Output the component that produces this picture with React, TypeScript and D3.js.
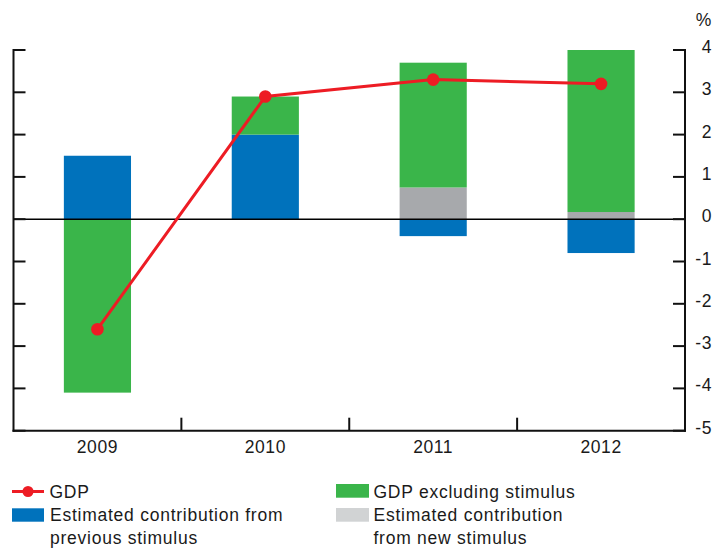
import React from "react";
import * as d3 from "d3";

const years = ["2009", "2010", "2011", "2012"];
const previousStimulus = [1.5, 2.0, -0.4, -0.8];
const newStimulus = [0, 0, 0.75, 0.17];
const gdpExclStimulus = [-4.1, 0.9, 2.95, 3.83];
const gdp = [-2.6, 2.9, 3.3, 3.2];
const yTicks = [4, 3, 2, 1, 0, -1, -2, -3, -4, -5];

const COLORS = {
  previous: "#0072BC",
  newS: "#A7A9AC",
  newLegend: "#D1D3D4",
  excl: "#3AB54A",
  gdp: "#ED1C24",
};

const W = 716;
const H = 548;
const left = 13.5;
const right = 685;
const top = 50;
const bottom = 430.7;
const FONT = "'Liberation Sans', Arial, Helvetica, sans-serif";

export default function App() {
  const x = d3.scaleBand<string>().domain(years).range([left, right]).paddingInner(0.6).paddingOuter(0.3);
  const y = d3.scaleLinear().domain([-5, 4]).range([bottom, top]);

  const rows = years.map((yr, i) => ({
    year: yr,
    previous: previousStimulus[i],
    newS: newStimulus[i],
    excl: gdpExclStimulus[i],
  }));
  const keys = ["previous", "newS", "excl"];
  const stack = d3.stack<any>().keys(keys).offset(d3.stackOffsetDiverging);
  const series = stack(rows);

  const cx = (yr: string) => (x(yr) as number) + x.bandwidth() / 2;
  const line = d3
    .line<number>()
    .x((_, i) => cx(years[i]))
    .y((d) => y(d));

  const step = x.step();
  const dividers = years.slice(1).map((yr) => (x(yr) as number) - (step - x.bandwidth()) / 2);

  return (
    <svg width={W} height={H} style={{ position: "absolute", left: 0, top: 0, background: "#fff" }} fontFamily={FONT}>
      {/* bars */}
      {series.map((s) => (
        <g key={s.key} fill={(COLORS as any)[s.key]}>
          {s.map((d, i) => {
            const y0 = Math.min(y(d[0]), y(d[1]));
            const h = Math.abs(y(d[0]) - y(d[1]));
            if (h < 0.01) return null;
            return <rect key={i} x={x(years[i])} y={y0} width={x.bandwidth()} height={h} />;
          })}
        </g>
      ))}

      {/* zero line */}
      <line x1={left} x2={right} y1={y(0)} y2={y(0)} stroke="#000" strokeWidth={1.6} />

      {/* axes */}
      <g stroke="#111" strokeWidth={2} fill="none">
        <line x1={left} x2={left} y1={top - 1} y2={bottom + 1} />
        <line x1={right} x2={right} y1={top - 1} y2={bottom + 1} />
        <line x1={left - 1} x2={right + 1} y1={bottom} y2={bottom} />
        {yTicks.map((t) => (
          <g key={t}>
            <line x1={left} x2={left + 12} y1={y(t)} y2={y(t)} />
            <line x1={right - 12} x2={right} y1={y(t)} y2={y(t)} />
          </g>
        ))}
        {dividers.map((dx, i) => (
          <line key={i} x1={dx} x2={dx} y1={bottom - 13} y2={bottom} />
        ))}
      </g>

      {/* tick labels */}
      <g fontSize={17.5} fill="#1a1a1a" textAnchor="end" letterSpacing={0.6}>
        {yTicks.map((t) => (
          <text key={t} x={712} y={y(t) + 3}>
            {t}
          </text>
        ))}
        <text x={712} y={26}>%</text>
      </g>
      <g fontSize={17.5} fill="#1a1a1a" textAnchor="middle" letterSpacing={0.6}>
        {years.map((yr) => (
          <text key={yr} x={cx(yr)} y={453}>
            {yr}
          </text>
        ))}
      </g>

      {/* GDP line */}
      <path d={line(gdp) as string} fill="none" stroke={COLORS.gdp} strokeWidth={3} />
      {gdp.map((v, i) => (
        <circle key={i} cx={cx(years[i])} cy={y(v)} r={6.3} fill={COLORS.gdp} />
      ))}

      {/* legend */}
      <g fontSize={17.5} fill="#1a1a1a" letterSpacing={0.75}>
        <line x1={12} x2={44} y1={491.5} y2={491.5} stroke={COLORS.gdp} strokeWidth={3} />
        <circle cx={28} cy={491.5} r={5.5} fill={COLORS.gdp} />
        <text x={49.5} y={497.5}>GDP</text>

        <rect x={12} y={508.3} width={32} height={13.4} fill={COLORS.previous} />
        <text x={50} y={521}>Estimated contribution from</text>
        <text x={50} y={544}>previous stimulus</text>

        <rect x={336} y={484} width={33} height={13.7} fill={COLORS.excl} />
        <text x={373.5} y={497.5}>GDP excluding stimulus</text>

        <rect x={336} y={508} width={33} height={13.7} fill={COLORS.newLegend} />
        <text x={373.5} y={521}>Estimated contribution</text>
        <text x={373.5} y={544}>from new stimulus</text>
      </g>
    </svg>
  );
}
